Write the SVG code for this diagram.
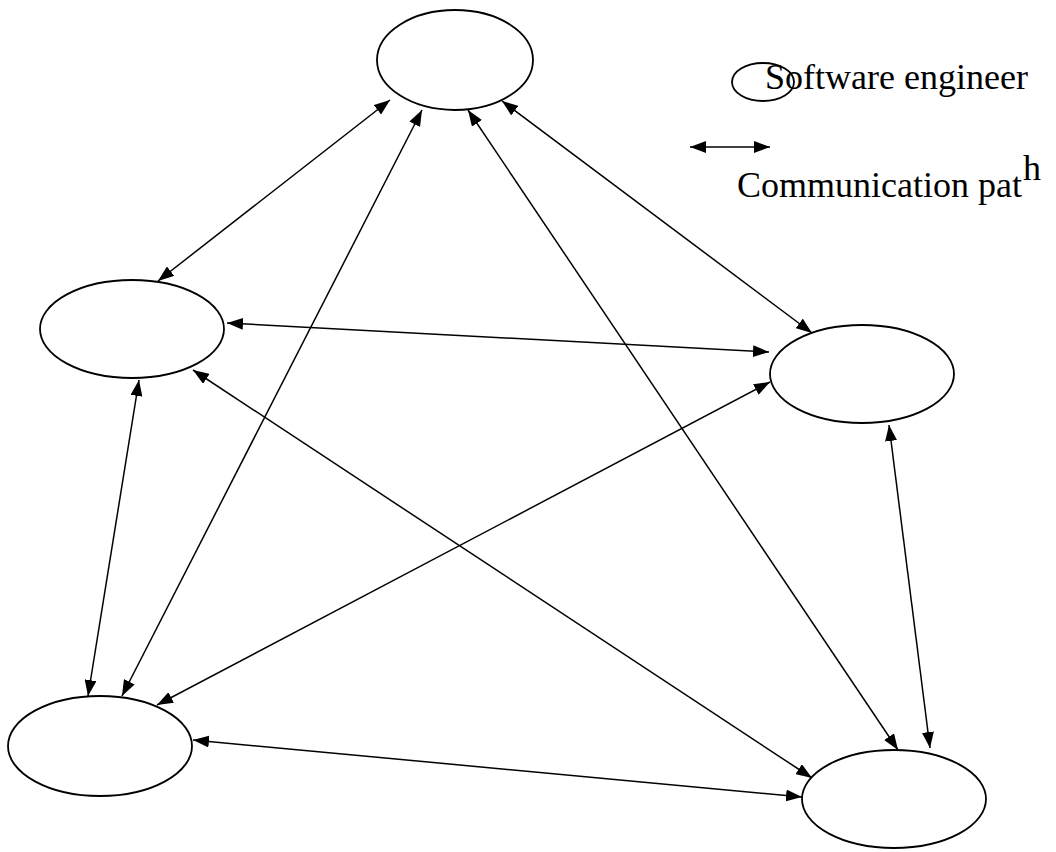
<svg xmlns="http://www.w3.org/2000/svg" width="1056" height="852" viewBox="0 0 1056 852">
<style>
.node{fill:#fff;stroke:#000;stroke-width:1.8}
.edge{stroke:#000;stroke-width:1.5;fill:none;marker-start:url(#ah);marker-end:url(#ah)}
</style>
<defs>
<marker id="ah" markerUnits="userSpaceOnUse" viewBox="0 0 16 12" refX="16" refY="6" markerWidth="16" markerHeight="12" orient="auto-start-reverse">
<path d="M0,0 L16,6 L0,12 z" fill="#000"/>
</marker>
</defs>
<g id="connectors">
<line class="edge" x1="390" y1="100" x2="158" y2="281"/>
<line class="edge" x1="422" y1="110" x2="122" y2="696"/>
<line class="edge" x1="468" y1="110" x2="898" y2="750"/>
<line class="edge" x1="502" y1="101" x2="812" y2="333"/>
<line class="edge" x1="227" y1="323" x2="769" y2="352"/>
<line class="edge" x1="139" y1="380" x2="88" y2="696"/>
<line class="edge" x1="193" y1="370" x2="812" y2="778"/>
<line class="edge" x1="770" y1="382" x2="157" y2="705"/>
<line class="edge" x1="889" y1="425" x2="930" y2="748"/>
<line class="edge" x1="193" y1="740" x2="802" y2="797"/>
</g>
<g id="node-top"><ellipse class="node" cx="455" cy="60" rx="78" ry="50"/></g>
<g id="node-left"><ellipse class="node" cx="132" cy="329" rx="92" ry="49"/></g>
<g id="node-right"><ellipse class="node" cx="862" cy="374" rx="92" ry="49"/></g>
<g id="node-bottom-left"><ellipse class="node" cx="100" cy="746" rx="92" ry="50"/></g>
<g id="node-bottom-right"><ellipse class="node" cx="894" cy="799" rx="92" ry="49"/></g>
<g id="legend" font-family="'Liberation Serif', 'Times New Roman', 'DejaVu Serif', serif" font-size="36" fill="#000">
<ellipse cx="763" cy="82" rx="31" ry="19" fill="none" stroke="#000" stroke-width="1.8"/>
<text x="765" y="89">Software engineer</text>
<line class="edge" x1="690" y1="147" x2="770" y2="147"/>
<text x="737" y="197">Communication pat</text>
<text x="1023" y="180">h</text>
</g>
</svg>
